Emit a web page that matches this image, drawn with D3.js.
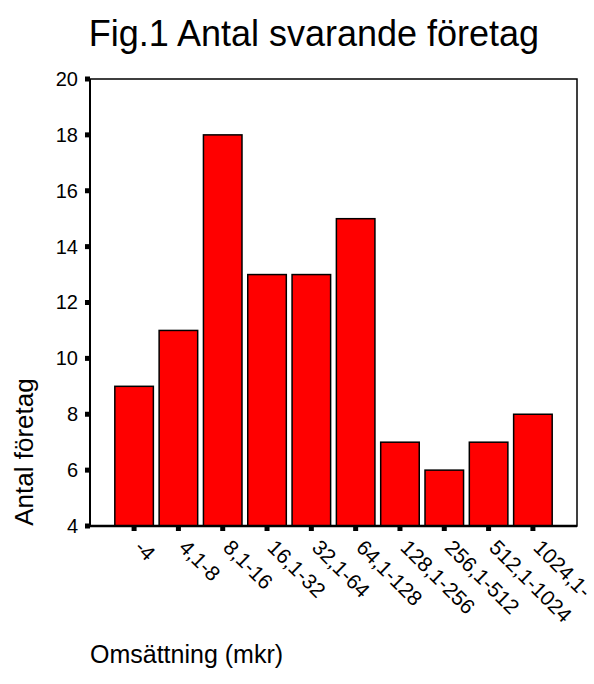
<!DOCTYPE html>
<html>
<head>
<meta charset="utf-8">
<script src="https://cdn.jsdelivr.net/npm/d3@7"></script>
<style>
  html, body { margin: 0; padding: 0; background: #fff; }
  svg { display: block; font-family: "Liberation Sans", Arial, sans-serif; }
</style>
</head>
<body>
<svg id="chart" width="594" height="684"></svg>
<script>
const categories = ["-4", "4,1-8", "8,1-16", "16,1-32", "32,1-64", "64,1-128", "128,1-256", "256,1-512", "512,1-1024", "1024,1-"];
const counts = [9, 11, 18, 13, 13, 15, 7, 6, 7, 8];
const yTicks = [4, 6, 8, 10, 12, 14, 16, 18, 20];
const title = "Fig.1 Antal svarande företag";
const yLabel = "Antal företag";
const xLabel = "Omsättning (mkr)";

(function () {
const svg = d3.select("#chart");
const pL = 90, pR = 577, pT = 79, pB = 526;

const x = d3.scaleBand().domain(categories).range([pL, pR]).paddingInner(0.13).paddingOuter(0.56);
const y = d3.scaleLinear().domain([4, 20]).range([pB, pT]);

// title
svg.append("text").attr("x", 314).attr("y", 46).attr("text-anchor", "middle")
  .attr("font-size", 36).attr("fill", "#000").text(title);

// bars
svg.append("g").selectAll("rect").data(counts).join("rect")
  .attr("x", (d, i) => x(categories[i]))
  .attr("y", d => y(d))
  .attr("width", x.bandwidth())
  .attr("height", d => y(4) - y(d))
  .attr("fill", "#ff0000").attr("stroke", "#000").attr("stroke-width", 1.5);

// frame
svg.append("rect").attr("x", pL).attr("y", pT).attr("width", pR - pL).attr("height", pB - pT)
  .attr("fill", "none").attr("stroke", "#000").attr("stroke-width", 1.5);
svg.append("line").attr("x1", pL).attr("x2", pR).attr("y1", pB).attr("y2", pB)
  .attr("stroke", "#000").attr("stroke-width", 2.5);
svg.append("line").attr("x1", pL).attr("x2", pL).attr("y1", pT).attr("y2", pB)
  .attr("stroke", "#000").attr("stroke-width", 2);

// y axis ticks and labels
const yAxis = svg.append("g").attr("transform", `translate(${pL},0)`)
  .call(d3.axisLeft(y).tickValues(yTicks).tickSize(0).tickPadding(12).tickFormat(d3.format("d")));
yAxis.select(".domain").remove();
yAxis.selectAll("text").attr("font-size", 20).attr("fill", "#000").attr("font-family", "Liberation Sans, Arial, sans-serif");
svg.append("g").selectAll("rect").data(yTicks).join("rect")
  .attr("x", pL - 5).attr("y", d => y(d) - 2.5).attr("width", 5).attr("height", 5).attr("fill", "#000");

// x ticks
svg.append("g").selectAll("rect").data(categories).join("rect")
  .attr("x", d => x(d) + x.bandwidth() / 2 - 2.5).attr("y", pB).attr("width", 5).attr("height", 5).attr("fill", "#000");

// x tick labels rotated
svg.append("g").selectAll("text").data(categories).join("text")
  .attr("transform", d => `translate(${x(d) + x.bandwidth() / 2 + 10},${pB + 12}) rotate(45)`)
  .attr("dy", "0.72em").attr("text-anchor", "start")
  .attr("font-size", 21).attr("fill", "#000").text(d => d);

// axis titles
svg.append("text").attr("transform", "translate(33,452) rotate(-90)").attr("text-anchor", "middle")
  .attr("font-size", 26).attr("fill", "#000").text(yLabel);
svg.append("text").attr("x", 90).attr("y", 663).attr("text-anchor", "start")
  .attr("font-size", 25).attr("fill", "#000").text(xLabel);
})();
</script>
</body>
</html>
